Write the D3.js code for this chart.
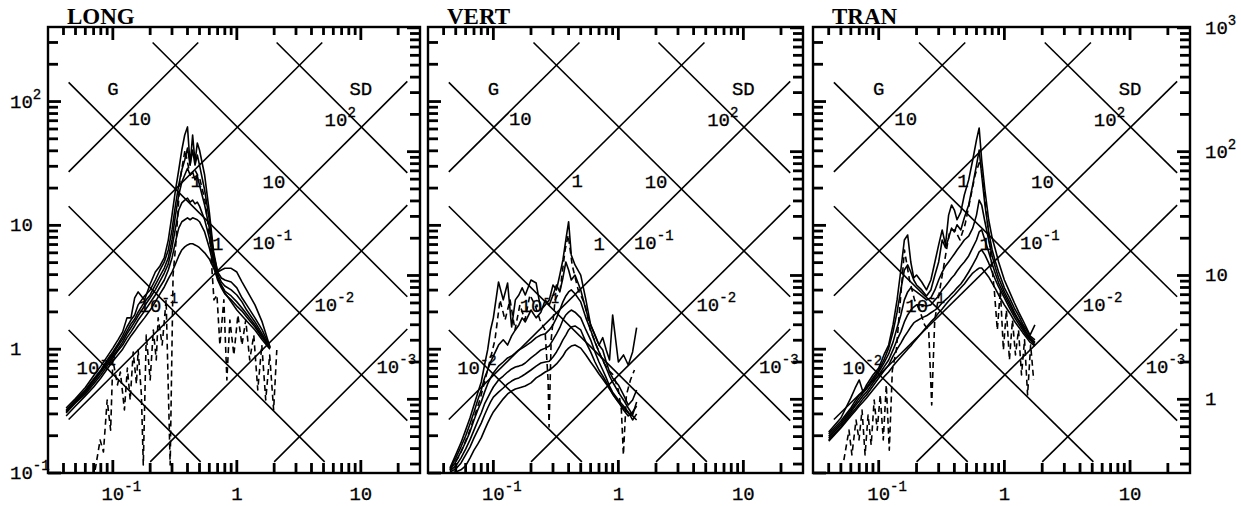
<!DOCTYPE html>
<html><head><meta charset="utf-8">
<script src="https://cdn.jsdelivr.net/npm/d3@7"></script>
<style>
body{margin:0;background:#fff}
svg{display:block}
.lbl{font-family:'Liberation Mono','Courier New',monospace;font-size:19px;fill:#000;stroke:#000;stroke-width:0.3px}
.sup{font-family:'Liberation Mono','Courier New',monospace;font-size:14px;fill:#000;stroke:#000;stroke-width:0.3px}
.ttl{font-family:'Liberation Serif','Times New Roman',serif;font-size:23px;font-weight:bold;fill:#000}
.tick{stroke:#000;stroke-width:2.8px;stroke-linecap:butt}
</style>
</head><body>
<script>
// ---------------- DATA ----------------
const panelNames = ["LONG", "VERT", "TRAN"];
const periodDomain = [0.03, 30];      // period T (s)
const velocityDomain = [0.1, 400];    // pseudo-velocity (in/s)
const xTickValues = [0.1, 1, 10];
const xTickLabels = ["10^-1", "1", "10"];
const yTickValues = [100, 10, 1, 0.1];
const yTickLabels = ["10^2", "10", "1", "10^-1"];
const yRightTickValues = [1000, 100, 10, 1];     // cm/s
const yRightTickLabels = ["10^3", "10^2", "10", "1"];
const gLineValues = [10, 1, 0.1, 0.01, 0.001];   // acceleration (g)
const gLineLabels = ["10", "1", "10^-1", "10^-2", "10^-3"];
const sdLineValues = [100, 10, 1, 0.1, 0.01];    // displacement (in)
const sdLineLabels = ["10^2", "10", "1", "10^-1", "10^-2"];

// LONG
const periodsLong = [0.042,0.05,0.06,0.07,0.08,0.09,0.1,0.11,0.12,0.13,0.14,0.15,0.16,0.18,0.2,0.22,0.24,0.26,0.28,0.3,0.32,0.34,0.36,0.38,0.4,0.42,0.44,0.46,0.48,0.5,0.55,0.6,0.65,0.7,0.75,0.8,0.9,1.0,1.1,1.2,1.4,1.6,1.85];
const longS1 = [0.335,0.40,0.49,0.61,0.73,0.87,1.02,1.19,1.38,1.79,1.79,2.6,2.9,2.5,3.36,4.2,4.7,5.5,7.6,12.1,19.3,28,40.6,53.7,62.4,30.7,53.7,32.4,46.3,40.6,25.5,12.8,6.1,4.2,4.36,4.5,4.5,4.2,3.5,3.0,2.28,1.66,1.04];
const longS2 = [0.323,0.389,0.468,0.575,0.679,0.818,0.95,1.10,1.28,1.51,1.72,1.89,2.28,2.69,3.01,3.62,4.36,5.06,6.33,9.18,14.6,21.2,28,33.7,42.1,30.7,40.6,30.7,37,30.7,19.3,11.1,5.77,4.2,3.76,3.62,3.49,3.13,2.6,2.28,1.79,1.43,1.04];
const longS3 = [0.317,0.382,0.46,0.564,0.666,0.788,0.915,1.06,1.21,1.40,1.60,1.75,1.99,2.41,2.74,3.3,3.9,4.52,5.46,7.62,12.1,17.6,22.4,25.5,28.9,25.5,27,23.3,25,21.2,14.6,9.5,5.46,4.05,3.49,3.24,3.01,2.74,2.41,2.07,1.66,1.33,1.02];
const longS4 = [0.311,0.375,0.45,0.543,0.65,0.76,0.88,1.0,1.14,1.33,1.49,1.66,1.86,2.23,2.6,3.01,3.55,4.12,4.88,6.6,9.5,13.3,15.2,16,16.6,15.4,16,14.9,15.4,14.3,11.1,7.9,5.06,3.83,3.3,2.95,2.69,2.41,2.15,1.92,1.57,1.28,1.02];
const longS5 = [0.305,0.368,0.435,0.524,0.619,0.73,0.85,0.97,1.08,1.24,1.38,1.54,1.72,2.03,2.37,2.74,3.18,3.62,4.36,5.46,7.35,9.5,10.7,11.1,11.5,11.1,11.5,11.3,11.1,10.7,8.85,6.6,4.7,3.62,3.13,2.8,2.5,2.23,2.03,1.82,1.51,1.24,1.02];
const longS6 = [0.289,0.348,0.42,0.495,0.586,0.692,0.80,0.898,1.0,1.14,1.28,1.40,1.54,1.79,2.07,2.41,2.8,3.18,3.69,4.2,4.88,5.66,6.33,6.7,6.95,7.1,7.1,6.95,6.8,6.6,6.0,5.36,4.52,3.76,3.24,2.85,2.41,2.07,1.86,1.69,1.43,1.19,1.0];
const dashPeriodsLong = [0.072,0.079,0.084,0.09,0.096,0.1,0.109,0.115,0.124,0.131,0.138,0.146,0.155,0.16,0.17,0.176,0.186,0.2,0.212,0.224,0.232,0.25,0.269,0.29,0.306,0.324,0.348,0.382,0.42,0.46,0.505,0.553,0.607,0.654,0.691,0.73,0.786,0.831,0.879,0.946,1.02,1.1,1.18,1.27,1.37,1.475,1.59,1.71,1.84,1.98,2.1];
const dashLong = [0.106,0.185,0.148,0.389,0.222,0.818,0.514,0.654,0.323,0.705,0.389,0.95,0.524,0.986,0.427,0.116,1.30,0.564,1.43,0.818,1.79,1.08,2.5,0.116,3.97,7.62,23.3,40.6,25.5,28,23.3,16,7.62,2.5,2.74,1.08,2.5,0.564,1.72,0.898,1.89,1.08,1.72,0.818,1.3,0.468,1.08,0.389,0.898,0.323,0.986];

// VERT
const periodsVert = [0.045,0.05,0.055,0.06,0.065,0.07,0.075,0.08,0.085,0.09,0.095,0.1,0.11,0.12,0.13,0.14,0.15,0.16,0.17,0.18,0.2,0.22,0.24,0.26,0.28,0.3,0.32,0.34,0.36,0.38,0.4,0.42,0.45,0.5,0.55,0.6,0.65,0.7,0.75,0.8,0.85,0.9,1.0,1.1,1.2,1.3,1.4];
const vertS1 = [0.11,0.14,0.175,0.222,0.278,0.354,0.442,0.543,0.745,0.986,1.43,1.79,3.49,2.5,3.42,1.51,2.5,2.74,3.13,2.74,3.62,3.42,2.07,2.28,2.5,3.3,3.01,3.97,5.26,7.62,10.7,5.77,4.79,3.97,2.5,1.57,1.30,1.08,1.24,0.986,0.818,1.89,0.788,0.898,0.745,0.95,1.49];
const vertS2 = [0.108,0.132,0.162,0.199,0.249,0.311,0.389,0.468,0.586,0.679,0.788,0.88,1.08,1.19,1.08,1.28,1.43,1.57,1.79,1.66,2.07,1.79,1.99,2.5,2.28,2.74,3.3,2.9,3.76,5.06,4.36,3.62,3.97,3.01,2.07,1.57,1.30,1.08,0.986,0.788,0.654,0.586,0.514,0.427,0.354,0.389,0.468];
const vertS3 = [0.106,0.123,0.148,0.178,0.215,0.268,0.323,0.375,0.45,0.524,0.586,0.642,0.73,0.788,0.85,0.88,0.932,0.986,1.02,1.06,1.14,1.24,1.30,1.33,1.43,1.57,1.79,2.07,2.41,2.69,2.9,3.01,2.8,2.41,1.79,1.43,1.14,0.95,0.818,0.705,0.607,0.543,0.45,0.389,0.335,0.294,0.375];
const vertS4 = [0.104,0.114,0.132,0.156,0.185,0.222,0.263,0.305,0.361,0.404,0.45,0.495,0.564,0.607,0.654,0.692,0.717,0.73,0.745,0.773,0.85,0.915,0.986,1.02,1.06,1.19,1.33,1.49,1.72,1.89,1.99,2.07,1.99,1.79,1.43,1.19,0.95,0.788,0.679,0.586,0.504,0.45,0.389,0.348,0.311,0.268,0.30];
const vertS5 = [0.102,0.108,0.12,0.14,0.162,0.192,0.222,0.253,0.294,0.335,0.375,0.41,0.45,0.486,0.524,0.553,0.575,0.586,0.607,0.63,0.679,0.73,0.773,0.788,0.80,0.866,0.95,1.06,1.19,1.30,1.43,1.51,1.54,1.43,1.14,0.95,0.788,0.679,0.607,0.543,0.486,0.435,0.375,0.323,0.289,0.311,0.348];
const vertS6 = [0.1,0.102,0.106,0.114,0.132,0.153,0.171,0.192,0.222,0.253,0.283,0.311,0.354,0.397,0.435,0.459,0.477,0.486,0.495,0.504,0.534,0.586,0.619,0.654,0.679,0.717,0.76,0.818,0.88,0.967,1.02,1.06,1.08,1.02,0.898,0.788,0.705,0.63,0.575,0.524,0.477,0.435,0.375,0.335,0.305,0.289,0.268];
const dashPeriodsVert = [0.045,0.054,0.065,0.078,0.09,0.103,0.113,0.124,0.136,0.149,0.163,0.179,0.196,0.215,0.236,0.259,0.274,0.279,0.29,0.312,0.342,0.375,0.397,0.427,0.477,0.543,0.596,0.666,0.744,0.831,0.912,1.0,1.057,1.097,1.16,1.249,1.345];
const dashVert = [0.106,0.14,0.222,0.389,0.679,1.19,2.5,1.72,2.5,1.43,2.28,1.72,2.74,2.28,1.72,1.43,0.564,0.235,1.19,2.5,3.01,6.33,8.36,4.79,3.01,2.28,1.43,1.08,0.818,0.679,0.619,0.468,0.323,0.14,0.427,0.564,0.679];

// TRAN
const periodsTran = [0.04,0.05,0.06,0.065,0.07,0.075,0.08,0.09,0.1,0.11,0.12,0.13,0.14,0.15,0.16,0.17,0.18,0.19,0.2,0.22,0.24,0.26,0.28,0.3,0.32,0.34,0.36,0.38,0.4,0.42,0.45,0.48,0.52,0.56,0.6,0.63,0.66,0.7,0.75,0.8,0.85,0.9,1.0,1.1,1.2,1.3,1.4,1.5,1.6,1.75];
const tranS1 = [0.214,0.278,0.404,0.486,0.564,0.45,0.514,0.619,0.705,0.898,1.08,1.57,2.5,4.36,7.62,8.36,5.06,3.76,3.97,3.49,3.01,3.62,5.06,6.95,9.18,6.95,12.1,14.6,13.3,11.1,12.8,17.6,23.3,33.7,49,61.2,33.7,19.3,11.1,7.9,6.33,5.06,3.62,2.9,2.37,1.99,1.72,1.49,1.30,1.57];
const tranS2 = [0.207,0.263,0.335,0.382,0.427,0.45,0.486,0.586,0.679,0.818,1.02,1.38,1.99,3.01,4.36,4.79,4.2,3.62,3.3,3.01,2.69,3.01,3.97,5.06,7.62,6.6,7.9,9.5,8.85,10.1,9.18,11.5,14.6,21.2,30.7,40.6,25.5,14.6,8.85,6.33,5.06,4.2,3.13,2.6,2.15,1.86,1.6,1.43,1.28,1.19];
const tranS3 = [0.199,0.253,0.323,0.361,0.404,0.442,0.477,0.564,0.654,0.773,0.915,1.14,1.49,1.89,2.5,2.9,3.13,3.01,2.9,2.69,2.5,2.6,3.01,3.62,4.2,4.7,5.06,5.46,5.88,6.33,6.95,7.62,8.2,9.5,12.1,16,14.6,10.7,7.62,5.66,4.52,3.76,2.9,2.41,1.99,1.72,1.54,1.36,1.24,1.14];
const tranS4 = [0.192,0.244,0.311,0.348,0.382,0.42,0.45,0.534,0.619,0.717,0.818,0.986,1.19,1.38,1.66,1.89,2.07,2.19,2.28,2.28,2.23,2.28,2.5,2.69,3.01,3.24,3.49,3.76,3.97,4.28,4.7,5.06,5.66,6.6,7.62,8.85,9.18,7.62,6.1,4.88,4.05,3.42,2.74,2.28,1.92,1.69,1.49,1.33,1.21,1.12];
const tranS5 = [0.185,0.235,0.30,0.329,0.361,0.397,0.427,0.504,0.586,0.666,0.745,0.88,1.0,1.12,1.26,1.38,1.51,1.63,1.69,1.79,1.86,1.97,2.07,2.19,2.37,2.5,2.64,2.8,2.95,3.13,3.36,3.69,4.2,4.79,5.46,6.1,6.33,5.77,4.97,4.2,3.62,3.18,2.6,2.15,1.82,1.6,1.43,1.28,1.19,1.08];
const tranS6 = [0.181,0.231,0.289,0.317,0.348,0.375,0.404,0.468,0.534,0.597,0.654,0.73,0.80,0.866,0.932,1.0,1.06,1.14,1.21,1.36,1.51,1.66,1.79,1.97,2.11,2.28,2.45,2.6,2.74,2.9,3.13,3.36,3.76,4.12,4.36,4.52,4.52,4.2,3.83,3.42,3.07,2.74,2.28,1.97,1.69,1.51,1.36,1.24,1.14,1.06];
const dashPeriodsTran = [0.0528,0.058,0.0612,0.066,0.0697,0.0737,0.0779,0.0823,0.0871,0.092,0.0973,0.1028,0.1087,0.1149,0.1214,0.1284,0.1382,0.1488,0.1603,0.1758,0.1928,0.2115,0.232,0.2498,0.2641,0.2791,0.306,0.3357,0.3683,0.404,0.4431,0.4861,0.5332,0.5849,0.6416,0.7038,0.7718,0.831,0.879,0.929,0.982,1.038,1.097,1.16,1.226,1.296,1.369,1.447,1.53,1.618,1.71];
const dashTran = [0.127,0.222,0.14,0.268,0.185,0.323,0.14,0.294,0.168,0.389,0.222,0.427,0.185,0.514,0.153,0.679,0.986,2.5,6.33,3.62,2.5,2.07,1.57,1.43,0.354,1.72,3.01,5.26,9.18,9.18,7.62,10.1,16,25.5,33.7,16,6.33,3.01,1.43,3.01,0.986,2.07,0.818,1.72,0.898,1.43,0.619,1.19,0.427,1.08,0.564];

// ---------------- DRAWING ----------------
const W = 1241, H = 506, TOP = 27, BOT = 473;
const IN_TO_CM = 2.54;
const G_TO_SV = 386.09 / (2 * Math.PI);      // in/s per (g*s)
const gridT = [0.044, 23.7], gridV = [0.123, 300];

const panels = [
  {name: panelNames[0], x0: 48,  x1: 420,  T: periodsLong, S: [longS1,longS2,longS3,longS4,longS5,longS6], dT: dashPeriodsLong, dV: dashLong},
  {name: panelNames[1], x0: 428, x1: 803,  T: periodsVert, S: [vertS1,vertS2,vertS3,vertS4,vertS5,vertS6], dT: dashPeriodsVert, dV: dashVert},
  {name: panelNames[2], x0: 813, x1: 1190, T: periodsTran, S: [tranS1,tranS2,tranS3,tranS4,tranS5,tranS6], dT: dashPeriodsTran, dV: dashTran}
];

const svg = d3.select("body").append("svg").attr("width", W).attr("height", H);
svg.append("rect").attr("width", W).attr("height", H).attr("fill", "#fff");
const defs = svg.append("defs");

function logMinor(lo, hi) {
  const out = [];
  for (let k = -3; k <= 4; k++) for (let m = 2; m <= 9; m++) {
    const v = m * Math.pow(10, k);
    if (v > lo * 1.001 && v < hi * 0.999) out.push(v);
  }
  return out;
}
function powLabel(g, label, x, y, anchor, supDx) {
  const parts = label.split("^");
  const t = g.append("text").attr("class", "lbl").attr("x", x).attr("y", y)
    .attr("text-anchor", anchor).text(parts[0]);
  if (parts.length > 1) {
    const bb = t.node().getBBox();
    g.append("text").attr("class", "sup").attr("x", bb.x + bb.width + supDx)
      .attr("y", y - 9).text(parts[1]);
  }
  return t;
}
// inward tick marks placed by the scales
function xTicks(g, scale, vals, y0, dir, len) {
  g.append("g").selectAll("line").data(vals).join("line").attr("class", "tick")
    .attr("x1", d => scale(d)).attr("x2", d => scale(d))
    .attr("y1", y0).attr("y2", y0 + dir * len);
}
function yTicks(g, scale, vals, x0, dir, len) {
  g.append("g").selectAll("line").data(vals).join("line").attr("class", "tick")
    .attr("y1", d => scale(d)).attr("y2", d => scale(d))
    .attr("x1", x0).attr("x2", x0 + dir * len);
}

panels.forEach((p, i) => {
  const x = d3.scaleLog().domain(periodDomain).range([p.x0, p.x1]);
  const y = d3.scaleLog().domain(velocityDomain).range([BOT, TOP]);
  const yR = d3.scaleLog().domain(velocityDomain.map(v => v * IN_TO_CM)).range([BOT, TOP]);
  const g = svg.append("g");

  defs.append("clipPath").attr("id", "clip" + i).append("rect")
    .attr("x", p.x0).attr("y", TOP).attr("width", p.x1 - p.x0).attr("height", BOT - TOP);

  // diagonal tripartite grid
  const line = d3.line().x(d => x(d[0])).y(d => y(d[1]));
  const diag = g.append("g").attr("fill", "none").attr("stroke", "#000").attr("stroke-width", 1.6);
  gLineValues.forEach(gv => {
    const k = gv * G_TO_SV;
    const t1 = Math.max(gridT[0], gridV[0] / k), t2 = Math.min(gridT[1], gridV[1] / k);
    if (t1 < t2) diag.append("path").attr("d", line([[t1, k * t1], [t2, k * t2]]));
  });
  sdLineValues.forEach(sd => {
    const m = 2 * Math.PI * sd;
    const t1 = Math.max(gridT[0], m / gridV[1]), t2 = Math.min(gridT[1], m / gridV[0]);
    if (t1 < t2) diag.append("path").attr("d", line([[t1, m / t1], [t2, m / t2]]));
  });

  // grid labels
  const lab = g.append("g");
  gLineValues.forEach((gv, j) => {
    const t = Math.sqrt(2 * Math.PI * 1 / (gv * G_TO_SV));   // on SD = 1 line
    const v = gv * G_TO_SV * t;
    powLabel(lab, gLineLabels[j], x(t) + 15, y(v) - 2, "start", 0);
  });
  sdLineValues.forEach((sd, j) => {
    const t = Math.sqrt(2 * Math.PI * sd / (0.1 * G_TO_SV)); // on G = 0.1 line
    const v = 0.1 * G_TO_SV * t;
    powLabel(lab, sdLineLabels[j], x(t) - 14, y(v) - 1, "end", 0);
  });
  lab.append("text").attr("class", "lbl").attr("x", x(xTickValues[0])).attr("y", 95)
    .attr("text-anchor", "middle").text("G");
  lab.append("text").attr("class", "lbl").attr("x", x(xTickValues[2])).attr("y", 95)
    .attr("text-anchor", "middle").text("SD");

  // spectra
  const data = g.append("g").attr("clip-path", `url(#clip${i})`).attr("fill", "none")
    .attr("stroke", "#000").attr("stroke-linejoin", "round");
  p.S.forEach(s => {
    data.append("path").attr("stroke-width", 1.6).attr("d", line(p.T.map((t, k) => [t, s[k]])));
  });
  data.append("path").attr("stroke-width", 1.6).attr("stroke-dasharray", "6,4")
    .attr("d", line(p.dT.map((t, k) => [t, p.dV[k]])));

  // frame
  g.append("rect").attr("x", p.x0).attr("y", TOP).attr("width", p.x1 - p.x0).attr("height", BOT - TOP)
    .attr("fill", "none").attr("stroke", "#000").attr("stroke-width", 2.4);

  // ticks (inward on all four sides)
  const xMin = logMinor(periodDomain[0], periodDomain[1]);
  const yMin = logMinor(velocityDomain[0], velocityDomain[1]);
  const rMin = logMinor(velocityDomain[0] * IN_TO_CM, velocityDomain[1] * IN_TO_CM);
  xTicks(g, x, xMin, TOP, 1, 8);   xTicks(g, x, xTickValues, TOP, 1, 13);
  xTicks(g, x, xMin, BOT, -1, 10); xTicks(g, x, xTickValues, BOT, -1, 13);
  yTicks(g, y, yMin, p.x0, 1, 10); yTicks(g, y, yTickValues, p.x0, 1, 13);
  yTicks(g, yR, rMin, p.x1, -1, 10); yTicks(g, yR, yRightTickValues, p.x1, -1, 13);

  // tick labels
  xTickValues.forEach((v, j) => powLabel(g, xTickLabels[j], x(v), 500, "middle", 0));
  if (i === 0) yTickValues.forEach((v, j) => powLabel(g, yTickLabels[j], 10, y(v) + 6, "start", 0));
  if (i === 2) yRightTickValues.forEach((v, j) => powLabel(g, yRightTickLabels[j], 1205, yR(v) + 6, "start", 0));

  // title
  g.append("text").attr("class", "ttl").attr("x", p.x0 + 19).attr("y", 24).text(p.name);
});
</script>
</body></html>
